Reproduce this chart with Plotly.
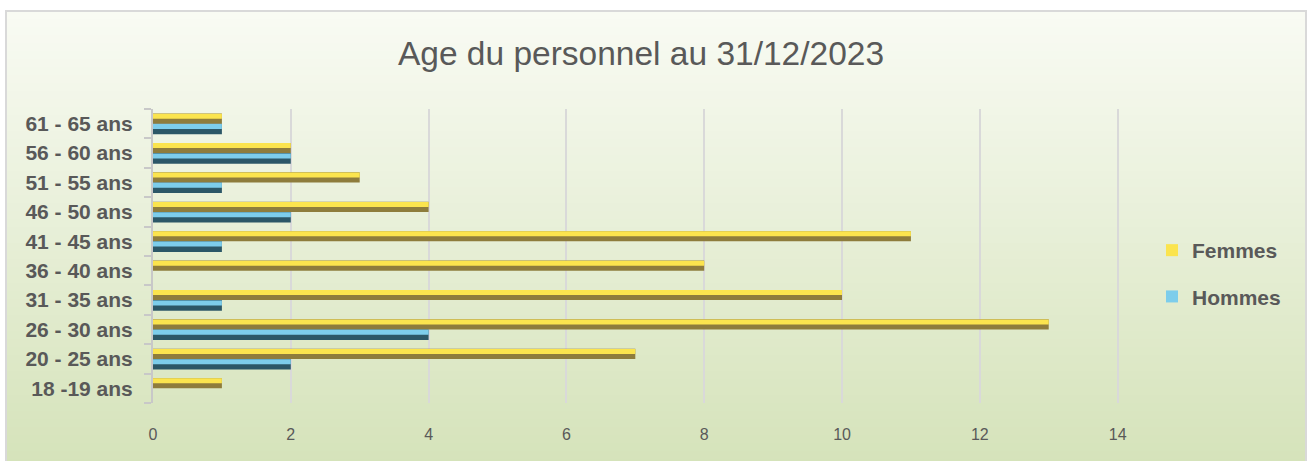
import plotly.graph_objects as go

# ---- data ----
categories = ["18 -19 ans", "20 - 25 ans", "26 - 30 ans", "31 - 35 ans", "36 - 40 ans",
              "41 - 45 ans", "46 - 50 ans", "51 - 55 ans", "56 - 60 ans", "61 - 65 ans"]
femmes = [1, 7, 13, 10, 8, 11, 4, 3, 2, 1]
hommes = [0, 2, 4, 1, 0, 1, 2, 1, 2, 1]
x_ticks = [0, 2, 4, 6, 8, 10, 12, 14]
title_text = "Age du personnel au 31/12/2023"

# ---- geometry ----
W, H = 1309, 461
L, R, T, B = 153, 190, 109, 58
pw, ph = W - L - R, H - T - B


def px2x(px):
    return (px - L) / pw


def py2y(py):
    return (H - B - py) / ph


FONT = "Liberation Sans, Arial, sans-serif"
GREY = "#595959"

fig = go.Figure()
# Femmes (dark lower part + light upper part)
fig.add_bar(y=categories, x=femmes, orientation="h", width=0.345, offset=0.0,
            marker=dict(color="#8E7C3C", line_width=0), name="Femmes",
            legendgroup="f", showlegend=False, hoverinfo="skip")
fig.add_bar(y=categories, x=femmes, orientation="h", width=0.17, offset=0.17,
            marker=dict(color="#FBE44E", line_width=0), name="Femmes",
            legendgroup="f", showlegend=True)
# Hommes
fig.add_bar(y=categories, x=hommes, orientation="h", width=0.36, offset=-0.36,
            marker=dict(color="#2C5767", line_width=0), name="Hommes",
            legendgroup="h", showlegend=False, hoverinfo="skip")
fig.add_bar(y=categories, x=hommes, orientation="h", width=0.17, offset=-0.18,
            marker=dict(color="#7DCDEB", line_width=0), name="Hommes",
            legendgroup="h", showlegend=True)

# ---- background gradient (styling) ----
shapes = []
top_c = (249, 251, 244)
bot_c = (212, 226, 184)
y_start, y_end = 11, 475
n = 58
step = (y_end - y_start) / n
for i in range(n):
    t = (i + 0.5) / n
    c = tuple(round(top_c[k] + (bot_c[k] - top_c[k]) * t) for k in range(3))
    y0p = y_start + i * step
    y1p = y0p + step + 0.8
    shapes.append(dict(type="rect", xref="paper", yref="paper", layer="below",
                       x0=px2x(6), x1=px2x(1306), y0=py2y(y1p), y1=py2y(y0p),
                       fillcolor="rgb(%d,%d,%d)" % c, line_width=0))
shapes.append(dict(type="rect", xref="paper", yref="paper", layer="below",
                   x0=px2x(6), x1=px2x(1306), y0=py2y(475), y1=py2y(11),
                   fillcolor="rgba(0,0,0,0)", line=dict(color="#D9D9D9", width=2)))

fig.update_layout(
    width=W, height=H,
    margin=dict(l=L, r=R, t=T, b=B, pad=0),
    paper_bgcolor="white", plot_bgcolor="rgba(0,0,0,0)",
    barmode="overlay",
    shapes=shapes,
    title=dict(text=title_text, x=641 / W, xref="container", xanchor="center",
               y=1 - 53 / H, yref="container", yanchor="middle",
               font=dict(family=FONT, size=33.5, color=GREY)),
    xaxis=dict(range=[0, 14.02], tickvals=x_ticks, showgrid=True, gridcolor="#D9D9D9",
               gridwidth=2, zeroline=False, showline=False, ticks="",
               tickfont=dict(family=FONT, size=16, color=GREY), ticklabelstandoff=20),
    yaxis=dict(type="category", categoryorder="array", categoryarray=categories,
               range=[-0.5, 9.5], showgrid=False, zeroline=False, showline=True,
               linecolor="#C8C8C8", linewidth=2, ticks="outside", tickson="boundaries",
               ticklen=7, tickwidth=2, tickcolor="#C8C8C8",
               tickfont=dict(family=FONT, size=21, color=GREY, weight="bold"),
               ticklabelstandoff=14),
    legend=dict(x=px2x(1152), y=py2y(230), xanchor="left", yanchor="top",
                traceorder="grouped", tracegroupgap=16, bgcolor="rgba(0,0,0,0)",
                font=dict(family=FONT, size=21, color=GREY, weight="bold")),
    showlegend=True,
)

fig.write_html("out.html", config={"displayModeBar": False},
               post_script="document.body.style.margin='0';")
